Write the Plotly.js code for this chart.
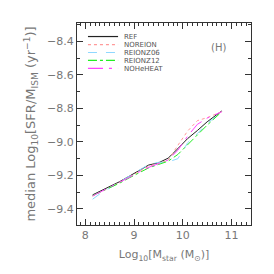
<!DOCTYPE html>
<html><head><meta charset="utf-8">
<script src="https://cdn.plot.ly/plotly-3.0.1.min.js"></script>
<style>body{margin:0;background:#fff}#c{width:274px;height:274px}</style>
</head><body><div id="c"></div>
<script>
const names = ["REF","NOREION","REIONZ06","REIONZ12","NOHeHEAT"];
const colors = ["#222222","#ff9a9a","#8fd8ff","#22ee22","#ff44ff"];
const dashes = ["solid","dot","dash","dashdot","longdashdot"];
const logMstar = [8.15, 8.3, 8.5, 8.7, 8.9, 9.1, 9.3, 9.5, 9.7, 9.9, 10.1, 10.3, 10.5, 10.8];
const REF      = [-9.316,-9.295,-9.268,-9.238,-9.205,-9.172,-9.138,-9.125,-9.097,-9.04,-8.98,-8.932,-8.88,-8.815];
const NOREION  = [-9.324,-9.300,-9.272,-9.242,-9.210,-9.178,-9.145,-9.128,-9.110,-9.02,-8.935,-8.873,-8.855,-8.820];
const REIONZ06 = [-9.342,-9.310,-9.275,-9.240,-9.205,-9.170,-9.135,-9.122,-9.120,-9.10,-9.005,-8.950,-8.890,-8.820];
const REIONZ12 = [-9.320,-9.300,-9.275,-9.247,-9.215,-9.185,-9.155,-9.135,-9.115,-9.075,-9.015,-8.960,-8.900,-8.820];
const NOHeHEAT = [-9.322,-9.300,-9.273,-9.245,-9.212,-9.180,-9.152,-9.130,-9.108,-9.05,-8.965,-8.895,-8.858,-8.820];
const series = [REF, NOREION, REIONZ06, REIONZ12, NOHeHEAT];

const traces = series.map((ys,i)=>({x:logMstar,y:ys,mode:'lines',name:names[i],
  line:{color:colors[i],dash:dashes[i],width:1},showlegend:false}));

const shapes=[], annotations=[];
const rowY=[0.933,0.893,0.854,0.815,0.775];
names.forEach((n,i)=>{
  shapes.push({type:'line',xref:'paper',yref:'paper',x0:0.063,x1:0.236,y0:rowY[i],y1:rowY[i],
    line:{color:colors[i],dash:dashes[i],width:1.2}});
  annotations.push({xref:'paper',yref:'paper',x:0.262,y:rowY[i],xanchor:'left',yanchor:'middle',
    text:n,showarrow:false,borderpad:0,height:7,font:{size:7,color:'#555'}});
});
annotations.push({xref:'paper',yref:'paper',x:0.868,y:0.916,text:'(H)',showarrow:false,
  font:{size:10,color:'#777'}});

const ax = {showgrid:false,zeroline:false,showline:true,linecolor:'#333',linewidth:1,
  mirror:'allticks',ticks:'inside',ticklen:6,tickcolor:'#333',
  tickfont:{size:11,color:'#777'}};
const layout={
  width:274,height:274,margin:{l:77,r:23,t:23,b:49},
  paper_bgcolor:'#fff',plot_bgcolor:'#fff',
  font:{family:'DejaVu Sans, sans-serif',color:'#777'},
  xaxis:Object.assign({},ax,{range:[7.83,11.4],dtick:1,tick0:8,
    minor:{ticks:'inside',ticklen:3,dtick:0.1,tickcolor:'#333'},
    title:{text:'Log<sub>10</sub>[M<sub>star</sub> (M<sub>⊙</sub>)]',font:{size:11,color:'#777'},standoff:9}}),
  yaxis:Object.assign({},ax,{range:[-9.496,-8.29],dtick:0.2,tick0:-8.4,
    minor:{ticks:'inside',ticklen:3,dtick:0.1,tickcolor:'#333'},tickformat:'.1f',
    title:{text:'median Log<sub>10</sub>[SFR/M<sub>ISM</sub> (yr<sup>−1</sup>)]',font:{size:13,color:'#777'},standoff:8}}),
  shapes:shapes,annotations:annotations,showlegend:false
};
Plotly.newPlot('c',traces,layout,{staticPlot:true,displayModeBar:false});
</script></body></html>
